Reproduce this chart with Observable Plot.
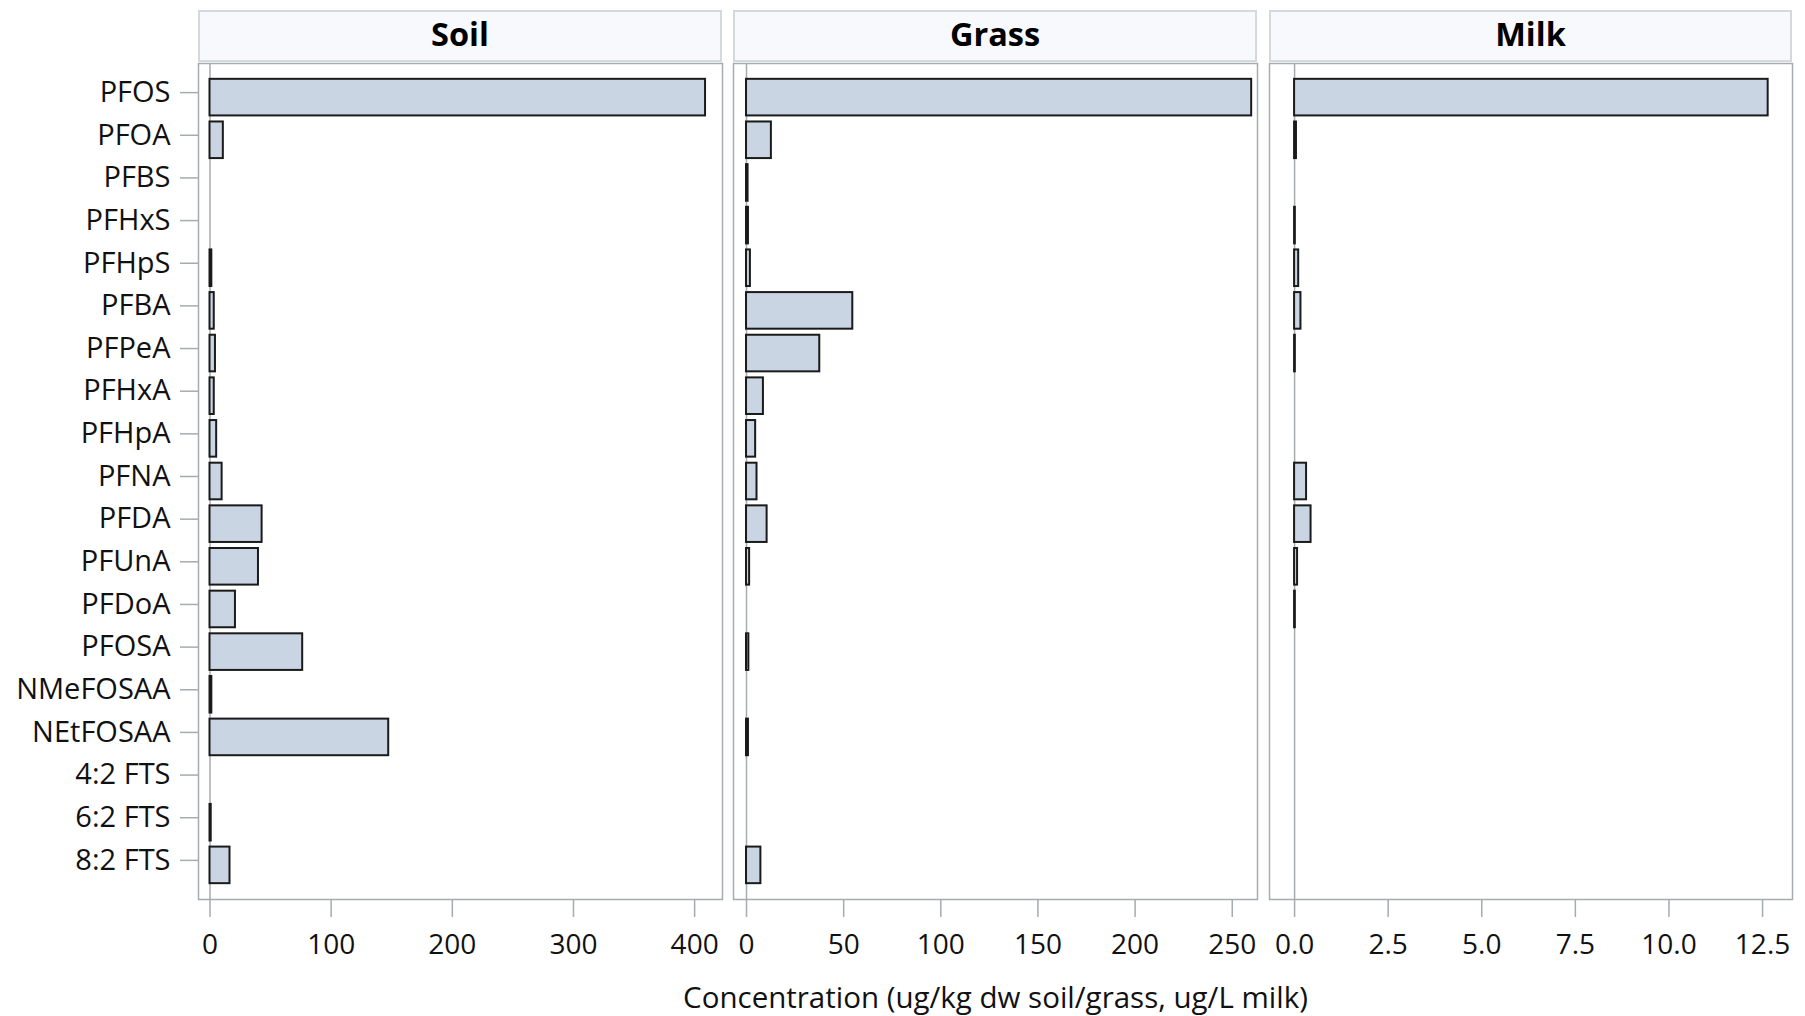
<!DOCTYPE html>
<html><head><meta charset="utf-8">
<script src="https://cdn.jsdelivr.net/npm/d3@7"></script>
<script src="https://cdn.jsdelivr.net/npm/@observablehq/plot@0.6"></script>
<style>
html,body{margin:0;padding:0;background:#fff;}
body{font-family:"Open Sans",sans-serif;color:#111;}
#root{position:relative;width:1805px;height:1016px;overflow:hidden;}
.hdr{position:absolute;top:10px;height:52px;box-sizing:border-box;border:2px solid #d5d8dd;background:#f8f9fd;font-weight:700;font-size:32.5px;display:flex;align-items:center;justify-content:center;color:#000;padding-bottom:5px;}
.panel{position:absolute;top:61px;}
.xtitle{position:absolute;top:980px;left:198px;width:1595px;text-align:center;font-size:29.5px;line-height:34px;color:#111;}
</style></head>
<body><div id="root"></div>
<script>
const compounds = ["PFOS","PFOA","PFBS","PFHxS","PFHpS","PFBA","PFPeA","PFHxA","PFHpA","PFNA","PFDA","PFUnA","PFDoA","PFOSA","NMeFOSAA","NEtFOSAA","4:2 FTS","6:2 FTS","8:2 FTS"];
const soil  = [409, 11, 0, 0, 1.5, 3.5, 4.5, 3.5, 5.5, 10, 43, 40, 21, 76.5, 1.5, 147.5, 0, 1, 16.5];
const grass = [260, 12.8, 0.8, 1, 2, 54.7, 37.7, 8.7, 4.7, 5.4, 10.6, 1.6, 0, 1.2, 0, 1, 0, 0, 7.4];
const milk  = [12.65, 0.05, 0, 0.02, 0.11, 0.17, 0.02, 0, 0, 0.32, 0.44, 0.08, 0.02, 0, 0, 0, 0, 0, 0];
const panelNames = ["Soil","Grass","Milk"];
const soilTicks  = [0,100,200,300,400];
const grassTicks = [0,50,100,150,200,250];
const milkTicks  = [0,2.5,5,7.5,10,12.5];
const xTitle = "Concentration (ug/kg dw soil/grass, ug/L milk)";

const series = [soil, grass, milk];
const tickSets = [soilTicks, grassTicks, milkTicks];
const domains = [[-9.5, 423], [-6.7, 263], [-0.67, 13.3]];
const formats = [d3.format("d"), d3.format("d"), d3.format(".1f")];
const frames = [[198, 722], [733, 1257], [1269, 1792]];

const root = document.getElementById("root");
const FONT = "'Open Sans', sans-serif";
const GRAY = "#a6abb0";

panelNames.forEach((name, p) => {
  const [fl, fr] = frames[p];
  const hdr = document.createElement("div");
  hdr.className = "hdr";
  hdr.style.left = fl + "px";
  hdr.style.width = (fr - fl) + "px";
  hdr.textContent = name;
  root.appendChild(hdr);

  const data = compounds.map((c, i) => ({compound: c, value: series[p][i]})).filter(d => d.value > 0);
  const first = p === 0;
  const marginLeft = first ? fl : 2;
  const left = first ? 0 : fl - 2;
  const width = marginLeft + (fr - fl) + 2;
  const marks = [
    Plot.frame({stroke: GRAY, strokeWidth: 1.5}),
    Plot.ruleX([0], {stroke: GRAY, strokeWidth: 1.5}),
    Plot.barX(data, {x: "value", y: "compound", fill: "#cad5e4", stroke: "#1a1a1a", strokeWidth: 2}),
    Plot.axisX({ticks: tickSets[p], tickFormat: formats[p], tickSize: 18, tickPadding: 17, stroke: GRAY, strokeWidth: 1.5, fill: "#111", fontSize: 28, label: null})
  ];
  if (first) marks.push(Plot.axisY({tickSize: 18, tickPadding: 10, stroke: GRAY, strokeWidth: 1.5, fill: "#111", fontSize: 29, dy: -5, label: null}));
  const svg = Plot.plot({
    width, height: 900,
    marginLeft, marginRight: 2, marginTop: 2, marginBottom: 62,
    style: {fontFamily: FONT, background: "transparent", overflow: "visible"},
    x: {domain: domains[p]},
    y: {type: "band", domain: compounds, paddingInner: 0.142, paddingOuter: 0.371, round: false, axis: null},
    marks
  });
  const wrap = document.createElement("div");
  wrap.className = "panel";
  wrap.style.left = left + "px";
  wrap.appendChild(svg);
  root.appendChild(wrap);
});

const xt = document.createElement("div");
xt.className = "xtitle";
xt.textContent = xTitle;
root.appendChild(xt);
</script>
</body></html>
